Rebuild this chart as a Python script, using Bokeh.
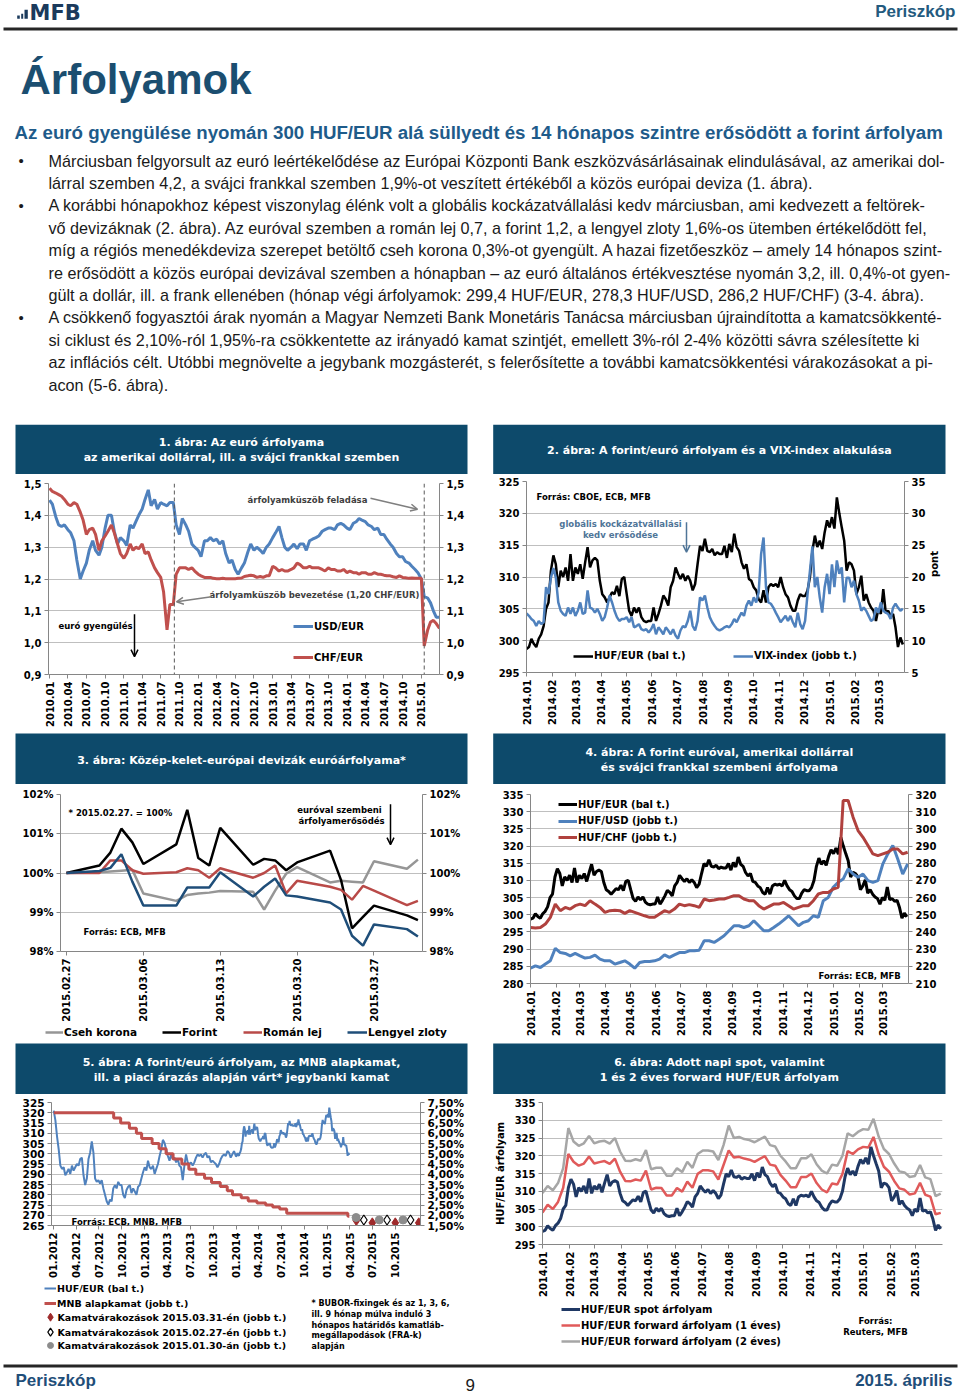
import math
import pandas as pd
from bokeh.plotting import figure
from bokeh.models import (Range1d, LinearAxis, FixedTicker, CustomJSTickFormatter,
                          Legend, LegendItem, Label, Arrow, OpenHead, Span, Spacer)
from bokeh.layouts import column, row
from bokeh.embed import file_html
from bokeh.resources import INLINE
from bokeh.core.properties import value

# ====================== DATA ======================
# --- Chart 1: USD/EUR, CHF/EUR (semi-monthly readings 2010.01 - 2015.03)
c1_dates = list(pd.date_range("2010-01-01", "2015-03-15", freq="SMS")) + [pd.Timestamp("2015-03-31")]
usd_eur = [1.448, 1.435, 1.395, 1.370, 1.365, 1.370, 1.355, 1.345, 1.320, 1.260,
           1.200, 1.225, 1.250, 1.290, 1.320, 1.290, 1.275, 1.300, 1.360, 1.400,
           1.400, 1.350, 1.310, 1.330, 1.320, 1.305, 1.370, 1.360, 1.380, 1.400,
           1.420, 1.450, 1.480, 1.430, 1.450, 1.420, 1.440, 1.435, 1.430, 1.440,
           1.440, 1.370, 1.340, 1.390, 1.370, 1.350, 1.310, 1.300, 1.290, 1.270,
           1.320, 1.320, 1.330, 1.320, 1.325, 1.310, 1.320, 1.280, 1.250, 1.260,
           1.230, 1.215, 1.235, 1.250, 1.285, 1.310, 1.290, 1.300, 1.290, 1.280,
           1.300, 1.310, 1.330, 1.345, 1.365, 1.330, 1.300, 1.290, 1.300, 1.310,
           1.295, 1.310, 1.310, 1.290, 1.320, 1.325, 1.330, 1.335, 1.350, 1.355,
           1.360, 1.360, 1.355, 1.370, 1.375, 1.370, 1.360, 1.355, 1.375, 1.380,
           1.390, 1.385, 1.380, 1.370, 1.365, 1.355, 1.360, 1.340, 1.340, 1.325,
           1.310, 1.300, 1.280, 1.270, 1.270, 1.255, 1.250, 1.240, 1.230, 1.220,
           1.200, 1.145, 1.140, 1.125, 1.100, 1.080, 1.080]
chf_eur = [1.485, 1.475, 1.470, 1.465, 1.460, 1.450, 1.435, 1.430, 1.440, 1.435,
           1.410, 1.385, 1.340, 1.355, 1.360, 1.340, 1.290, 1.320, 1.335, 1.350,
           1.370, 1.345, 1.310, 1.280, 1.265, 1.280, 1.310, 1.290, 1.300, 1.295,
           1.310, 1.280, 1.285, 1.260, 1.235, 1.220, 1.205, 1.160, 1.040, 1.120,
           1.120, 1.215, 1.235, 1.235, 1.235, 1.230, 1.235, 1.225, 1.215, 1.210,
           1.205, 1.205, 1.205, 1.202, 1.201, 1.201, 1.202, 1.201, 1.201, 1.201,
           1.201, 1.202, 1.203, 1.208, 1.210, 1.212, 1.210, 1.205, 1.208, 1.205,
           1.210, 1.210, 1.240, 1.235, 1.225, 1.230, 1.225, 1.225, 1.230, 1.235,
           1.250, 1.245, 1.235, 1.235, 1.240, 1.235, 1.235, 1.235, 1.230, 1.225,
           1.235, 1.230, 1.230, 1.225, 1.225, 1.230, 1.220, 1.225, 1.220, 1.220,
           1.215, 1.220, 1.220, 1.215, 1.215, 1.220, 1.215, 1.215, 1.212, 1.210,
           1.210, 1.207, 1.205, 1.210, 1.205, 1.204, 1.202, 1.203, 1.202, 1.202,
           1.202, 0.990, 1.040, 1.065, 1.070, 1.060, 1.045]
c1_xticks = ["2010.01", "2010.04", "2010.07", "2010.10", "2011.01", "2011.04", "2011.07",
             "2011.10", "2012.01", "2012.04", "2012.07", "2012.10", "2013.01", "2013.04",
             "2013.07", "2013.10", "2014.01", "2014.04", "2014.07", "2014.10", "2015.01"]
c1_yticks = [0.9, 1.0, 1.1, 1.2, 1.3, 1.4, 1.5]
floor_dates = ["2011-09-06", "2015-01-15"]

# --- HUF/EUR 2014.01 - 2015.03 (used in charts 2, 4, 5, 6)
huf_eur_1415 = [298.7, 299.0, 300.3, 299.5, 299.0, 300.3, 301.0, 302.3, 305.0, 306.0,
                311.0, 313.4, 312.0, 308.4, 311.0, 310.0, 311.5, 309.4, 313.6, 309.4,
                311.5, 310.5, 312.0, 309.7, 312.3, 314.7, 311.5, 312.6, 313.0, 312.6,
                309.4, 307.3, 306.8, 306.0, 306.8, 307.6, 307.3, 308.6, 307.0, 309.7,
                310.0, 307.3, 304.7, 303.9, 305.2, 304.4, 305.2, 303.7, 303.1, 302.9,
                303.1, 303.1, 305.2, 303.1, 304.2, 305.5, 307.1, 306.5, 305.5, 308.4,
                309.4, 311.5, 310.5, 309.7, 310.5, 309.4, 310.2, 309.4, 307.9, 308.9,
                312.0, 314.9, 314.1, 316.0, 314.1, 313.9, 314.4, 313.4, 313.9, 313.6,
                313.6, 314.9, 313.0, 315.2, 313.9, 316.8, 314.7, 314.1, 312.3, 311.3,
                312.0, 309.7, 309.4, 308.4, 307.9, 306.5, 306.0, 307.9, 306.0, 308.4,
                308.9, 308.6, 308.9, 308.4, 310.0, 308.4, 307.3, 306.8, 305.5, 304.7,
                304.7, 306.3, 307.3, 307.0, 307.0, 307.9, 310.0, 314.1, 316.5, 314.7,
                315.7, 314.4, 317.0, 318.9, 317.8, 319.4, 317.6, 322.5, 320.0, 317.8,
                315.7, 311.0, 312.3, 312.0, 311.0, 307.3, 308.4, 310.2, 306.3, 307.3,
                306.0, 305.2, 304.7, 303.1, 305.0, 304.2, 308.1, 304.4, 304.7, 303.9,
                304.2, 302.1, 299.0, 300.5, 299.4]
d1415 = pd.date_range("2014-01-01", "2015-03-30", periods=len(huf_eur_1415))
vix = [14.3, 13.9, 13.4, 13.1, 12.3, 13.1, 12.6, 12.9, 18.4, 17.3,
       19.9, 21.4, 19.9, 16.0, 14.7, 14.2, 13.9, 15.2, 14.2, 15.2,
       13.9, 14.7, 16.0, 14.2, 14.4, 17.9, 15.2, 15.0, 14.4, 15.0,
       14.2, 13.1, 13.7, 15.2, 17.1, 16.0, 14.7, 13.7, 13.1, 13.4,
       13.4, 13.7, 12.9, 13.7, 12.1, 12.3, 12.6, 11.8, 11.6, 11.8,
       11.3, 11.8, 12.6, 11.0, 12.1, 11.6, 11.0, 12.1, 11.6, 11.0,
       11.8, 10.8, 10.3, 11.6, 12.3, 12.1, 13.1, 14.7, 12.3, 11.6,
       13.1, 16.8, 16.3, 17.1, 15.2, 13.7, 12.9, 12.3, 11.8, 11.6,
       11.8, 12.1, 12.3, 12.1, 12.6, 13.4, 12.9, 13.7, 14.4, 13.9,
       15.5, 16.3, 15.5, 16.8, 16.0, 17.6, 23.6, 26.2, 18.4, 16.0,
       15.8, 15.2, 14.4, 13.7, 12.9, 13.4, 13.9, 13.1, 13.9, 12.9,
       12.1, 14.4, 12.6, 11.8, 13.1, 17.3, 21.0, 24.8, 18.4, 20.0,
       16.8, 14.4, 18.4, 20.5, 17.3, 22.0, 18.4, 22.6, 20.5, 21.5,
       16.0, 19.9, 19.9, 18.4, 19.4, 17.3, 16.3, 14.7, 15.2, 14.7,
       13.9, 13.1, 13.4, 15.2, 14.4, 16.0, 14.7, 14.4, 14.2, 13.4,
       15.2, 15.8, 15.2, 14.7, 15.0]
c2_xticks = ["2014.01", "2014.02", "2014.03", "2014.04", "2014.05", "2014.06", "2014.07",
             "2014.08", "2014.09", "2014.10", "2014.11", "2014.12", "2015.01", "2015.02", "2015.03"]

# --- Chart 3: CEE currencies vs EUR (2015.02.27 = 100%)
c3_dates = ["2015-02-27", "2015-03-02", "2015-03-03", "2015-03-04", "2015-03-05", "2015-03-06",
            "2015-03-09", "2015-03-10", "2015-03-11", "2015-03-12", "2015-03-13", "2015-03-16",
            "2015-03-17", "2015-03-18", "2015-03-19", "2015-03-20", "2015-03-23", "2015-03-24",
            "2015-03-25", "2015-03-26", "2015-03-27", "2015-03-30", "2015-03-31"]
cseh = [100.0, 100.02, 100.04, 100.06, 100.08, 99.48, 99.29, 99.44, 99.48, 99.50, 99.54, 99.52,
        99.07, 99.55, 99.98, 100.15, 99.76, 99.80, 99.78, 99.76, 100.30, 100.11, 100.34]
forint = [100.0, 100.19, 100.52, 101.13, 100.78, 100.23, 100.73, 101.61, 100.38, 100.19, 101.15, 100.21,
          100.36, 100.32, 100.07, 100.27, 100.57, 99.82, 98.59, 98.88, 99.17, 98.92, 98.80]
roman = [100.0, 100.0, 100.32, 100.32, 100.07, 99.98, 100.02, 100.12, 100.07, 99.88, 100.12, 99.88,
         100.0, 100.19, 99.48, 99.80, 99.65, 99.57, 99.32, 99.67, 99.55, 99.18, 99.29]
zloty = [100.0, 100.05, 100.13, 100.48, 99.78, 99.17, 99.17, 99.63, 99.63, 99.63, 100.02, 99.40,
         99.65, 99.86, 99.43, 99.40, 99.25, 99.07, 98.40, 98.15, 98.69, 98.57, 98.38]
c3_xticks = ["2015.02.27", "2015.03.06", "2015.03.13", "2015.03.20", "2015.03.27"]
c3_yticks = [98, 99, 100, 101, 102]

# --- Chart 4: HUF/USD, HUF/CHF
huf_usd = [218.9, 220.3, 219.3, 221.3, 223.2, 230.5, 228.0, 227.5, 226.1, 227.5,
           226.1, 224.8, 225.2, 226.5, 224.2, 223.2, 223.2, 221.3, 222.2, 223.2,
           221.3, 218.9, 222.2, 222.8, 222.8, 223.2, 224.2, 226.7, 225.2, 226.7,
           228.0, 228.0, 229.0, 229.0, 229.4, 234.9, 234.9, 233.9, 235.8, 237.8,
           240.7, 243.6, 243.6, 242.6, 243.6, 246.5, 243.6, 240.7, 240.7, 242.6,
           244.6, 246.9, 249.4, 246.5, 243.6, 245.6, 246.5, 249.4, 248.5, 258.2,
           260.1, 266.0, 268.9, 270.8, 276.7, 273.7, 271.8, 273.7, 269.9, 268.9,
           269.9, 279.6, 285.4, 290.3, 282.5, 273.7, 279.6]
huf_chf = [242.6, 242.3, 242.6, 244.6, 248.5, 256.2, 252.4, 254.3, 253.3, 255.3,
           256.2, 255.3, 258.2, 256.2, 254.3, 251.4, 252.4, 252.7, 252.4, 250.8,
           252.4, 251.4, 250.4, 249.4, 248.5, 248.5, 250.4, 252.4, 251.4, 253.3,
           256.2, 255.3, 255.9, 255.3, 254.3, 259.2, 258.2, 258.6, 259.2, 259.2,
           260.1, 261.1, 261.1, 259.2, 258.2, 258.2, 255.3, 253.3, 254.7, 256.2,
           256.2, 257.2, 255.3, 253.3, 254.3, 255.3, 255.3, 258.2, 262.1, 263.0,
           263.0, 265.0, 266.0, 316.5, 316.5, 306.8, 299.0, 295.1, 290.3, 285.4,
           284.4, 285.4, 286.4, 288.3, 288.3, 285.4, 286.4]
d4 = pd.date_range("2014-01-01", "2015-03-31", periods=len(huf_usd))

# --- Chart 5: HUF/EUR 2012-2013, MNB base rate, rate expectations
huf_1213 = [321.0, 316.3, 308.4, 302.1, 294.2, 292.6, 293.4, 289.5, 291.0, 292.6,
            290.2, 294.2, 291.8, 293.4, 295.0, 294.2, 297.4, 298.1, 289.5, 284.7,
            287.9, 297.4, 300.5, 306.0, 300.5, 287.9, 286.3, 287.1, 285.5, 287.1,
            283.1, 280.0, 276.8, 275.2, 277.6, 276.8, 283.1, 284.7, 283.1, 286.3,
            284.7, 284.7, 280.0, 278.4, 282.3, 283.9, 284.7, 280.8, 283.1, 281.6,
            280.0, 283.9, 284.7, 287.9, 291.0, 293.4, 291.8, 296.6, 293.4, 292.6,
            294.2, 290.2, 292.6, 295.0, 298.9, 302.1, 306.8, 305.3, 302.1, 298.9,
            296.6, 299.7, 297.4, 298.1, 295.8, 297.4, 294.2, 293.4, 287.1, 294.2,
            299.7, 295.8, 295.0, 295.8, 294.2, 295.8, 298.1, 299.7, 298.9, 299.7,
            298.1, 299.7, 300.5, 298.1, 298.9, 295.8, 296.6, 295.8, 295.0, 293.4,
            295.0, 297.4, 298.9, 299.7, 298.9, 301.3, 300.5, 298.1, 299.7, 301.3]
d1213 = pd.date_range("2012-01-02", "2013-12-24", periods=len(huf_1213))
mnb_dates = ["2012-01-02", "2012-08-29", "2012-09-26", "2012-10-31", "2012-11-28", "2012-12-19",
             "2013-01-30", "2013-02-27", "2013-03-27", "2013-04-24", "2013-05-29", "2013-06-26",
             "2013-07-24", "2013-08-28", "2013-09-25", "2013-10-30", "2013-11-27", "2013-12-18",
             "2014-01-22", "2014-02-19", "2014-03-26", "2014-04-30", "2014-05-28", "2014-06-25",
             "2014-07-23", "2015-03-25", "2015-03-31"]
mnb_rate = [7.00, 6.75, 6.50, 6.25, 6.00, 5.75, 5.50, 5.25, 5.00, 4.75, 4.50, 4.25, 4.00,
            3.80, 3.60, 3.40, 3.20, 3.00, 2.85, 2.70, 2.60, 2.50, 2.40, 2.30, 2.10, 1.95, 1.95]
exp_0331_dates = ["2015-04-28", "2015-07-01", "2015-10-01", "2016-01-03"]
exp_0331 = [1.74, 1.63, 1.63, 1.63]
exp_0227_dates = ["2015-05-28", "2015-08-29", "2015-12-01"]
exp_0227 = [1.77, 1.77, 1.77]
exp_0130_dates = ["2015-04-27", "2015-07-29", "2015-11-01"]
exp_0130 = [1.89, 1.77, 1.77]
c5_xticks = ["01.2012", "04.2012", "07.2012", "10.2012", "01.2013", "04.2013", "07.2013", "10.2013",
             "01.2014", "04.2014", "07.2014", "10.2014", "01.2015", "04.2015", "07.2015", "10.2015"]

# --- Chart 6: forward HUF/EUR
fwd_1y = [304.0, 306.2, 305.0, 307.0, 311.0, 320.5, 318.3, 317.2, 317.8, 319.8,
          317.8, 318.2, 318.5, 317.7, 319.2, 315.5, 312.9, 312.8, 313.3, 313.0,
          315.8, 310.5, 311.0, 310.9, 308.8, 308.8, 310.9, 309.9, 312.7, 311.0,
          314.9, 315.9, 315.9, 315.6, 313.3, 317.4, 321.5, 319.5, 319.7, 319.2,
          318.9, 318.3, 319.1, 319.9, 317.5, 317.2, 314.6, 313.0, 311.1, 311.1,
          314.0, 314.0, 315.0, 312.3, 310.5, 309.7, 312.2, 311.9, 314.9, 321.3,
          320.5, 321.8, 322.5, 322.3, 325.3, 320.4, 316.9, 315.5, 312.9, 310.8,
          310.4, 309.1, 309.4, 312.4, 309.0, 308.5, 303.5, 303.9]
fwd_2y = [309.5, 311.5, 310.3, 312.3, 316.5, 327.8, 324.0, 322.8, 323.5, 325.6,
          323.5, 324.0, 324.2, 323.4, 325.0, 321.2, 318.6, 318.5, 319.0, 318.6,
          321.6, 316.2, 316.6, 316.6, 314.4, 314.4, 316.5, 315.4, 318.3, 316.6,
          320.5, 321.5, 321.5, 321.2, 318.8, 323.0, 328.5, 325.0, 325.3, 324.7,
          324.4, 323.8, 324.6, 325.4, 323.0, 322.6, 320.0, 318.4, 316.5, 316.5,
          319.3, 319.3, 320.4, 317.6, 315.8, 315.0, 317.5, 317.2, 320.0, 326.3,
          325.5, 326.7, 327.5, 327.3, 330.4, 325.4, 321.9, 320.5, 317.8, 315.6,
          315.3, 314.0, 314.3, 317.4, 313.9, 313.4, 308.6, 309.3]
d6 = pd.date_range("2014-01-01", "2015-03-30", periods=len(fwd_1y))

# --- Page texts
subtitle = "Az euró gyengülése nyomán 300 HUF/EUR alá süllyedt és 14 hónapos szintre erősödött a forint árfolyam"
body_lines = [
    "Márciusban felgyorsult az euró leértékelődése az Európai Központi Bank eszközvásárlásainak elindulásával, az amerikai dol-",
    "lárral szemben 4,2, a svájci frankkal szemben 1,9%-ot veszített értékéből a közös európai deviza (1. ábra).",
    "A korábbi hónapokhoz képest viszonylag élénk volt a globális kockázatvállalási kedv márciusban, ami kedvezett a feltörek-",
    "vő devizáknak (2. ábra). Az euróval szemben a román lej 0,7, a forint 1,2, a lengyel zloty 1,6%-os ütemben értékelődött fel,",
    "míg a régiós menedékdeviza szerepet betöltő cseh korona 0,3%-ot gyengült. A hazai fizetőeszköz – amely 14 hónapos szint-",
    "re erősödött a közös európai devizával szemben a hónapban – az euró általános értékvesztése nyomán 3,2, ill. 0,4%-ot gyen-",
    "gült a dollár, ill. a frank ellenében (hónap végi árfolyamok: 299,4 HUF/EUR, 278,3 HUF/USD, 286,2 HUF/CHF) (3-4. ábra).",
    "A csökkenő fogyasztói árak nyomán a Magyar Nemzeti Bank Monetáris Tanácsa márciusban újraindította a kamatcsökkenté-",
    "si ciklust és 2,10%-ról 1,95%-ra csökkentette az irányadó kamat szintjét, emellett 3%-ról 2-4% közötti sávra szélesítette ki",
    "az inflációs célt. Utóbbi megnövelte a jegybank mozgásterét, s felerősítette a további kamatcsökkentési várakozásokat a pi-",
    "acon (5-6. ábra).",
]
bullet_lines = [0, 2, 7]

# ====================== STYLE ======================
FONT = "DejaVu Sans"
TXT = "Liberation Sans"
NAVY = "#0d4a6b"
GRID = "#bfbfbf"
AXC = "#868686"
BLUE = "#4f81bd"
RED = "#c0504d"


def ms(t):
    return pd.Timestamp(t).value / 1e6


def jsfmt(kind):
    codes = {
        "ym": 'const d=new Date(tick);return d.getUTCFullYear()+"."+String(d.getUTCMonth()+1).padStart(2,"0");',
        "ymd": 'const d=new Date(tick);return d.getUTCFullYear()+"."+String(d.getUTCMonth()+1).padStart(2,"0")+"."+String(d.getUTCDate()).padStart(2,"0");',
        "my": 'const d=new Date(tick);return String(d.getUTCMonth()+1).padStart(2,"0")+"."+d.getUTCFullYear();',
        "c1": 'return tick.toFixed(1).replace(".", ",");',
        "p0": 'return tick.toFixed(0)+"%";',
        "p2": 'return tick.toFixed(2).replace(".", ",")+"%";',
        "i0": 'return tick.toFixed(0);',
    }
    return CustomJSTickFormatter(code=codes[kind])


def plain(w, h):
    p = figure(width=w, height=h, x_range=Range1d(0, w), y_range=Range1d(h, 0),
               x_axis_location=None, y_axis_location=None, min_border=0, title=None,
               output_backend="svg", toolbar_location=None, outline_line_color=None)
    p.grid.visible = False
    return p


def title_fig(lines, h, top_y, x0, x1, ys):
    t = plain(472, h)
    t.quad(left=[x0], right=[x1], top=[top_y], bottom=[h], fill_color=NAVY, line_color=None)
    t.text(x=[(x0 + x1) / 2] * len(lines), y=ys, text=lines, text_align="center",
           text_baseline="middle", text_color="white", text_font=value(FONT),
           text_font_style="bold", text_font_size="11px")
    return t


def chart(w, h, bl, br, bt, bb, xr, yr, page_x, page_y):
    x0, x1 = ms(xr[0]), ms(xr[1])
    p = figure(width=w, height=h, x_axis_type="datetime", x_range=Range1d(x0, x1),
               y_range=Range1d(yr[0], yr[1]), min_border_left=bl, min_border_right=br,
               min_border_top=bt, min_border_bottom=bb, title=None, output_backend="svg",
               toolbar_location=None, outline_line_color=None)
    p.xgrid.visible = False
    p.ygrid.grid_line_color = GRID
    fl, fr, ft, fb = page_x + bl, page_x + w - br, page_y + bt, page_y + h - bb

    def M(px, py):
        return (x0 + (px - fl) / (fr - fl) * (x1 - x0),
                yr[0] + (fb - py) / (fb - ft) * (yr[1] - yr[0]))
    return p, M, (fl, fr, ft, fb)


def style_axes(p, fs="10px"):
    for ax in p.axis:
        ax.major_label_text_font = FONT
        ax.major_label_text_font_style = "bold"
        ax.major_label_text_font_size = fs
        ax.major_label_text_color = "#000000"
        ax.axis_line_color = AXC
        ax.major_tick_line_color = AXC
        ax.major_tick_in = 0
        ax.major_tick_out = 4
        ax.minor_tick_line_color = None
        ax.major_label_standoff = 3
        ax.axis_label_text_font = FONT
        ax.axis_label_text_font_style = "bold"
        ax.axis_label_text_font_size = "10px"
        ax.axis_label_text_color = "#000000"


def xdates(p, labels, fmt, kind):
    p.xaxis.ticker = FixedTicker(ticks=[ms(pd.to_datetime(s, format=fmt)) for s in labels])
    p.xaxis.formatter = jsfmt(kind)
    p.xaxis.major_label_orientation = math.pi / 2


def add_text(p, M, px, py, text, fs="8.5px", color="#000000", align="left"):
    x, y = M(px, py)
    p.add_layout(Label(x=x, y=y, text=text, text_font=FONT, text_font_style="bold",
                       text_font_size=fs, text_color=color, text_align=align,
                       text_baseline="middle"))


def add_arrow(p, M, a, b, color, width=1.5, size=7):
    xa, ya = M(*a)
    xb, yb = M(*b)
    p.add_layout(Arrow(end=OpenHead(size=size, line_color=color, line_width=width),
                       x_start=xa, y_start=ya, x_end=xb, y_end=yb,
                       line_color=color, line_width=width))


def make_leg(r, label, x, y, gw, fs):
    return Legend(items=[LegendItem(label=label, renderers=[r])], location=(x, y),
                  glyph_width=gw, glyph_height=12, label_height=12,
                  label_standoff=1, padding=0, margin=0, spacing=0,
                  border_line_color=None, background_fill_alpha=0,
                  label_text_font=FONT, label_text_font_style="bold",
                  label_text_font_size=fs, label_text_color="#000000")


def add_leg(p, F, r, label, gx0, gx1, cy, fs="10px"):
    p.add_layout(make_leg(r, label, gx0 - F[0], F[3] - cy - 6, int(round(gx1 - gx0)), fs))


# legend-only renderers in the strip figures sit outside the visible canvas
OFF_X, OFF_Y = [-50, -40], [-50, -50]


def strip_line(s, **kw):
    return s.line(x=OFF_X, y=OFF_Y, **kw)


def strip_leg(s, h, r, label, gx0, gx1, cy, fs="10px"):
    s.add_layout(make_leg(r, label, gx0, h - cy - 6, int(round(gx1 - gx0)), fs))


def strip_text(s, x, y, text, fs="8.5px", align="left"):
    s.text(x=[x], y=[y], text=[text], text_font=value(FONT), text_font_style="bold",
           text_font_size=fs, text_color="#000000", text_align=align, text_baseline="middle")


def box(fig):
    return column(fig)


# ====================== TOP TEXT (page coordinates) ======================
top = plain(960, 424)
top.quad(left=[16.7, 20.7, 24], right=[19.3, 22.7, 27.3], top=[15, 13.3, 9.3],
         bottom=[18.3, 18.3, 18.3], fill_color="#1b3a5c", line_color=None)
top.text(x=[29], y=[12], text=["MFB"], text_font=value(FONT), text_font_style="bold",
         text_font_size="21px", text_color="#1b3a5c", text_baseline="middle")
top.text(x=[955], y=[11], text=["Periszkóp"], text_font=value(TXT), text_font_style="bold",
         text_font_size="17px", text_color="#235a7e", text_align="right", text_baseline="middle")
top.quad(left=[3], right=[957], top=[27], bottom=[30], fill_color="#262626", line_color=None)
top.text(x=[20], y=[79], text=["Árfolyamok"], text_font=value(TXT), text_font_style="bold",
         text_font_size="42px", text_color="#1b4e70", text_baseline="middle")
top.text(x=[14], y=[132], text=[subtitle], text_font=value(TXT), text_font_style="bold",
         text_font_size="18.7px", text_color="#1e5b8a", text_baseline="middle")
top.text(x=[48] * len(body_lines), y=[160 + 22.4 * i for i in range(len(body_lines))],
         text=body_lines, text_font=value(TXT), text_font_size="16.2px",
         text_color="#1a1a1a", text_baseline="middle")
top.text(x=[18] * len(bullet_lines), y=[160 + 22.4 * i for i in bullet_lines],
         text=["•"] * len(bullet_lines), text_font=value(TXT), text_font_size="15px",
         text_color="#1a1a1a", text_baseline="middle")

# ====================== CHART 1 ======================
t1 = title_fig(["1. ábra: Az euró árfolyama", "az amerikai dollárral, ill. a svájci frankkal szemben"],
               50, 0, 7, 459, [17.7, 33.3])
p1, M1, F1 = chart(472, 256, 40, 41, 9, 54, ("2009-12-27", "2015-03-31"), (0.9, 1.5), 8, 474)
r_usd = p1.line(c1_dates, usd_eur, line_color=BLUE, line_width=3)
r_chf = p1.line(c1_dates, chf_eur, line_color=RED, line_width=3)
for d in floor_dates:
    p1.add_layout(Span(location=ms(d), dimension="height", line_color="#595959",
                       line_dash="4 3", line_width=1))
xdates(p1, c1_xticks, "%Y.%m", "ym")
p1.yaxis.ticker = FixedTicker(ticks=c1_yticks)
p1.yaxis.formatter = jsfmt("c1")
p1.add_layout(LinearAxis(ticker=FixedTicker(ticks=c1_yticks), formatter=jsfmt("c1")), "right")
style_axes(p1)
add_text(p1, M1, 307, 500, "árfolyamküszöb feladása", color="#404040", align="center")
add_arrow(p1, M1, (370, 498), (417, 509), "#7f7f7f")
add_text(p1, M1, 314, 596, "árfolyamküszöb bevezetése (1,20 CHF/EUR)", color="#404040", align="center")
add_arrow(p1, M1, (211, 597.5), (176, 602.5), "#7f7f7f")
add_text(p1, M1, 95, 627, "euró gyengülés", align="center")
add_arrow(p1, M1, (134, 615), (134, 658), "#000000")
add_leg(p1, F1, r_usd, "USD/EUR", 293, 313, 628.3)
add_leg(p1, F1, r_chf, "CHF/EUR", 293, 313, 659.3)

# ====================== CHART 2 ======================
t2 = title_fig(["2. ábra: A forint/euró árfolyam és a VIX-index alakulása"], 50, 0, 12.7, 465, [26])
p2, M2, F2 = chart(472, 256, 46, 48, 7, 58, ("2014-01-01", "2015-04-01"), (295, 325), 480, 474)
p2.extra_y_ranges = {"vix": Range1d(5, 35)}
r_huf2 = p2.line(d1415, huf_eur_1415, line_color="#000000", line_width=2.5)
r_vix = p2.line(d1415, vix, line_color=BLUE, line_width=2.5, y_range_name="vix")
xdates(p2, c2_xticks, "%Y.%m", "ym")
p2.yaxis.ticker = FixedTicker(ticks=[295, 300, 305, 310, 315, 320, 325])
p2.yaxis.formatter = jsfmt("i0")
vix_axis = LinearAxis(y_range_name="vix", ticker=FixedTicker(ticks=[5, 10, 15, 20, 25, 30, 35]),
                      formatter=jsfmt("i0"), axis_label="pont")
p2.add_layout(vix_axis, "right")
style_axes(p2)
vix_axis.axis_label_orientation = math.pi / 2
vix_axis.axis_label_standoff = 6
add_text(p2, M2, 536, 496.7, "Forrás: CBOE, ECB, MFB")
add_text(p2, M2, 620, 523.3, "globális kockázatvállalási", color="#4f7598", align="center")
add_text(p2, M2, 620, 534.3, "kedv erősödése", color="#4f7598", align="center")
add_arrow(p2, M2, (686, 521.7), (686, 551.7), "#4f7598")
add_leg(p2, F2, r_huf2, "HUF/EUR (bal t.)", 573, 593, 655.7)
add_leg(p2, F2, r_vix, "VIX-index (jobb t.)", 733, 753, 655.7)

# ====================== CHART 3 ======================
t3 = title_fig(["3. ábra: Közép-kelet-európai devizák euróárfolyama*"], 54, 3, 7, 459, [30])
p3, M3, F3 = chart(472, 240, 52, 58, 10, 70, ("2015-02-26 11:00", "2015-03-31 10:00"), (98, 102), 8, 784)
c3x = pd.to_datetime(c3_dates)
c3_colors = ["#969696", "#000000", "#b94a48", "#1f4e79"]
c3_series = [cseh, forint, roman, zloty]
for ser, col in zip(c3_series, c3_colors):
    p3.line(c3x, ser, line_color=col, line_width=2.5)
xdates(p3, c3_xticks, "%Y.%m.%d", "ymd")
p3.yaxis.ticker = FixedTicker(ticks=c3_yticks)
p3.yaxis.formatter = jsfmt("p0")
p3.add_layout(LinearAxis(ticker=FixedTicker(ticks=c3_yticks), formatter=jsfmt("p0")), "right")
style_axes(p3)
add_text(p3, M3, 68, 813.3, "* 2015.02.27. = 100%")
add_text(p3, M3, 339, 810, "euróval szembeni", align="center")
add_text(p3, M3, 341, 820.7, "árfolyamerősödés", align="center")
add_arrow(p3, M3, (390, 804), (390, 845), "#000000")
add_text(p3, M3, 83, 934, "Forrás: ECB, MFB")
l3 = plain(472, 16)
c3_names = ["Cseh korona", "Forint", "Román lej", "Lengyel zloty"]
c3_leg_x = [(37, 55), (154, 173), (235, 254), (339, 359)]
for name, col, (gx0, gx1) in zip(c3_names, c3_colors, c3_leg_x):
    rr = strip_line(l3, line_color=col, line_width=2.5)
    strip_leg(l3, 16, rr, name, gx0, gx1, 7.7, fs="10.5px")

# ====================== CHART 4 ======================
t4 = title_fig(["4. ábra: A forint euróval, amerikai dollárral", "és svájci frankkal szembeni árfolyama"],
               54, 3, 12.7, 465, [21.7, 37.3])
p4, M4, F4 = chart(472, 256, 50, 44, 10, 57, ("2014-01-01", "2015-04-01"), (280, 335), 480, 784)
p4.extra_y_ranges = {"r": Range1d(210, 320)}
r_e4 = p4.line(d1415, huf_eur_1415, line_color="#000000", line_width=3)
r_u4 = p4.line(d4, huf_usd, line_color=BLUE, line_width=3, y_range_name="r")
r_c4 = p4.line(d4, huf_chf, line_color="#b0413e", line_width=3, y_range_name="r")
xdates(p4, c2_xticks, "%Y.%m", "ym")
p4.yaxis.ticker = FixedTicker(ticks=list(range(280, 336, 5)))
p4.yaxis.formatter = jsfmt("i0")
p4.add_layout(LinearAxis(y_range_name="r", ticker=FixedTicker(ticks=list(range(210, 321, 10))),
                         formatter=jsfmt("i0")), "right")
style_axes(p4)
add_leg(p4, F4, r_e4, "HUF/EUR (bal t.)", 558, 577, 804)
add_leg(p4, F4, r_u4, "HUF/USD (jobb t.)", 558, 577, 820.7)
add_leg(p4, F4, r_c4, "HUF/CHF (jobb t.)", 558, 577, 837.3)
add_text(p4, M4, 818, 975.7, "Forrás: ECB, MFB")

# ====================== CHART 5 ======================
t5 = title_fig(["5. ábra: A forint/euró árfolyam, az MNB alapkamat,",
                "ill. a piaci árazás alapján várt* jegybanki kamat"], 54, 3, 7, 459, [21.7, 37.3])
p5, M5, F5 = chart(472, 187, 43, 60, 8, 53, ("2011-12-24", "2016-01-10"), (265, 325), 8, 1094)
p5.extra_y_ranges = {"rate": Range1d(1.5, 7.5)}
p5.line(list(d1213) + list(d1415), huf_1213 + huf_eur_1415, line_color=BLUE, line_width=2)
p5.step(pd.to_datetime(mnb_dates), mnb_rate, mode="after", line_color=RED, line_width=3,
        y_range_name="rate")
m_red = dict(marker="diamond", size=10, fill_color="#9e2a2b", line_color="#9e2a2b")
m_open = dict(marker="diamond", size=10, fill_color="white", line_color="#000000", line_width=1.2)
m_gray = dict(marker="circle", size=8, fill_color="#8c8c8c", line_color="#8c8c8c")
p5.scatter(pd.to_datetime(exp_0331_dates), exp_0331, y_range_name="rate", **m_red)
p5.scatter(pd.to_datetime(exp_0227_dates), exp_0227, y_range_name="rate", **m_open)
p5.scatter(pd.to_datetime(exp_0130_dates), exp_0130, y_range_name="rate", **m_gray)
xdates(p5, c5_xticks, "%m.%Y", "my")
p5.yaxis.ticker = FixedTicker(ticks=list(range(265, 326, 5)))
p5.yaxis.formatter = jsfmt("i0")
p5.add_layout(LinearAxis(y_range_name="rate",
                         ticker=FixedTicker(ticks=[1.5 + 0.5 * i for i in range(13)]),
                         formatter=jsfmt("p2")), "right")
style_axes(p5, fs="10.5px")
p5.xaxis.major_label_text_font_size = "10px"
add_text(p5, M5, 71, 1224, "Forrás: ECB, MNB, MFB")
l5 = plain(472, 81)
rl1 = strip_line(l5, line_color=BLUE, line_width=2)
rl2 = strip_line(l5, line_color=RED, line_width=3)
strip_leg(l5, 81, rl1, "HUF/EUR (bal t.)", 36, 48, 7.3, fs="9.5px")
strip_leg(l5, 81, rl2, "MNB alapkamat (jobb t.)", 36, 48, 22.3, fs="9.5px")
# marker keys of the expectation series (swatch + label)
marker_keys = [(m_red, "Kamatvárakozások 2015.03.31-én (jobb t.)", 35.7),
               (m_open, "Kamatvárakozások 2015.02.27-én (jobb t.)", 50.7),
               (m_gray, "Kamatvárakozások 2015.01.30-án (jobb t.)", 64)]
for style, lbl, cy in marker_keys:
    kw = dict(style)
    kw["size"] = kw["size"] - 2
    l5.scatter(x=[42], y=[cy], **kw)
    strip_text(l5, 49, cy, lbl, fs="9.5px")
note = ["* BUBOR-fixingek és az 1, 3, 6,", "ill. 9 hónap múlva induló 3",
        "hónapos határidős kamatláb-", "megállapodások (FRA-k)", "alapján"]
for i, s in enumerate(note):
    strip_text(l5, 303, 22.3 + 10.7 * i, s, fs="8px")

# ====================== CHART 6 ======================
t6 = title_fig(["6. ábra: Adott napi spot, valamint", "1 és 2 éves forward HUF/EUR árfolyam"],
               54, 3, 12.7, 465, [21.7, 37.3])
p6, M6, F6 = chart(472, 206, 62, 10, 8, 56, ("2014-01-01", "2015-04-01"), (295, 335), 480, 1094)
c6_gray, c6_red, c6_navy = "#a6a6a6", "#e05a5a", "#1f3864"
p6.line(d6, fwd_2y, line_color=c6_gray, line_width=2.5)
p6.line(d6, fwd_1y, line_color=c6_red, line_width=2.5)
p6.line(d1415, huf_eur_1415, line_color=c6_navy, line_width=3)
xdates(p6, c2_xticks, "%Y.%m", "ym")
p6.yaxis.ticker = FixedTicker(ticks=list(range(295, 336, 5)))
p6.yaxis.formatter = jsfmt("i0")
p6.yaxis.axis_label = "HUF/EUR árfolyam"
style_axes(p6)
p6.yaxis.axis_label_standoff = 6
l6 = plain(472, 62)
r61 = strip_line(l6, line_color=c6_navy, line_width=3)
r62 = strip_line(l6, line_color=c6_red, line_width=2.5)
r63 = strip_line(l6, line_color=c6_gray, line_width=2.5)
strip_leg(l6, 62, r61, "HUF/EUR spot árfolyam", 81, 100, 9.3)
strip_leg(l6, 62, r62, "HUF/EUR forward árfolyam (1 éves)", 81, 100, 25)
strip_leg(l6, 62, r63, "HUF/EUR forward árfolyam (2 éves)", 81, 100, 41)
strip_text(l6, 395, 20, "Forrás:", align="center")
strip_text(l6, 395, 31.5, "Reuters, MFB", align="center")

# ====================== FOOTER (page coordinates, y offset 1362) ======================
foot = plain(960, 32)
foot.quad(left=[3], right=[957], top=[2], bottom=[5], fill_color="#262626", line_color=None)
foot.text(x=[15], y=[18], text=["Periszkóp"], text_font=value(TXT), text_font_style="bold",
          text_font_size="17px", text_color="#1f4e79", text_baseline="middle")
foot.text(x=[465], y=[22], text=["9"], text_font=value(TXT), text_font_size="17px",
          text_color="#1a1a1a", text_baseline="middle")
foot.text(x=[952], y=[18], text=["2015. április"], text_font=value(TXT), text_font_style="bold",
          text_font_size="17px", text_color="#1f4e79", text_align="right", text_baseline="middle")

charts = column(
    row(column(box(t1), box(p1)), column(box(t2), box(p2))),
    row(column(box(t3), box(p3), box(l3)), column(box(t4), box(p4))),
    row(column(box(t5), box(p5), box(l5)), column(box(t6), box(p6), box(l6))),
)
layout = column(top, row(Spacer(width=8, height=938), charts), foot)

open("out.html", "w").write(file_html(layout, INLINE))
